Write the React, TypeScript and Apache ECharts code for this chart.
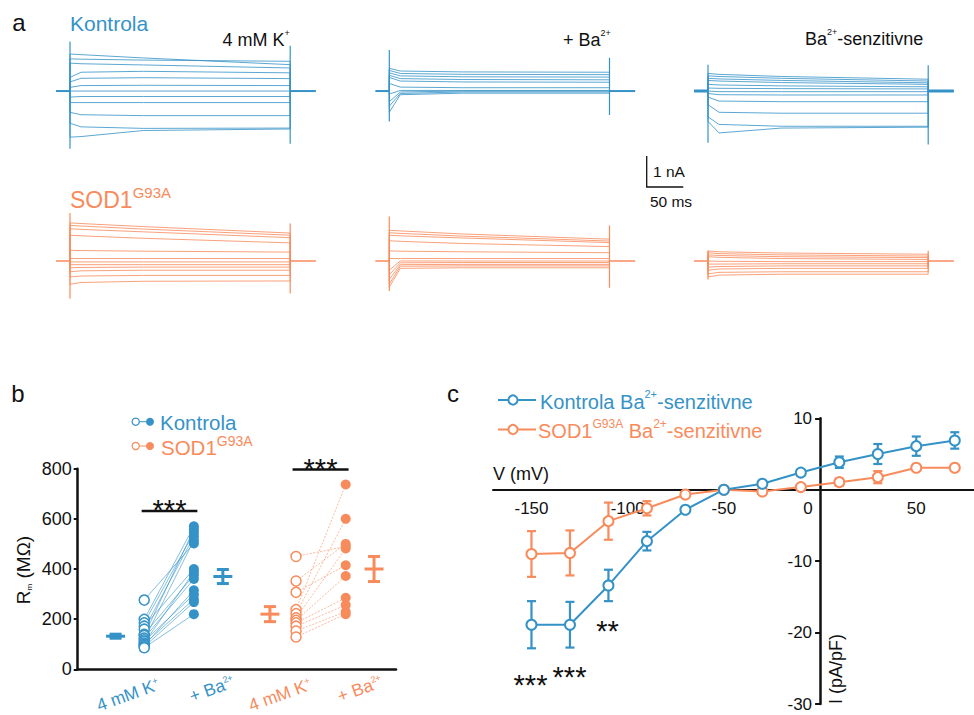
import React, { useEffect, useRef } from 'react';
import * as echarts from 'echarts';

const BLUE = '#3592c7';
const ORANGE = '#f88b5c';
const BLACK = '#111';
const FONT = '"Liberation Sans", Arial, Helvetica, sans-serif';

// ---------- Panel a: current traces (nA) sampled at these times (ms) ----------
const traceTimesMs = [0, 15, 100, 300];
const stepEndMs = 300;
const preMs = 19;
const postMs = 35;

const kontrola4K = [
  [1.22, 1.2, 1.09, 0.87],
  [1.06, 1.05, 1.02, 0.98],
  [0.92, 0.9, 0.86, 0.76],
  [0.45, 0.62, 0.65, 0.6],
  [0.3, 0.42, 0.44, 0.41],
  [0.12, 0.18, 0.19, 0.18],
  [0.0, 0.0, 0.0, 0.0],
  [-0.2, -0.18, -0.18, -0.18],
  [-0.38, -0.38, -0.38, -0.38],
  [-0.7, -0.78, -0.81, -0.81],
  [-1.06, -1.18, -1.23, -1.22],
  [-1.52, -1.5, -1.3, -1.25],
];
const kontrolaBa = [
  [0.75, 0.66, 0.63, 0.62],
  [0.68, 0.58, 0.55, 0.54],
  [0.6, 0.5, 0.47, 0.46],
  [0.52, 0.41, 0.38, 0.37],
  [0.45, 0.33, 0.3, 0.29],
  [0.25, 0.13, 0.11, 0.11],
  [-0.1, 0.02, 0.02, 0.02],
  [-0.35, -0.03, 0.0, 0.0],
  [-0.5, -0.08, -0.03, -0.03],
  [-0.7, -0.12, -0.07, -0.07],
];
const kontrolaSens = [
  [0.58, 0.55, 0.48, 0.39],
  [0.5, 0.48, 0.42, 0.33],
  [0.42, 0.4, 0.35, 0.27],
  [0.35, 0.33, 0.28, 0.22],
  [0.22, 0.2, 0.17, 0.14],
  [0.1, 0.09, 0.08, 0.07],
  [-0.02, -0.02, -0.02, -0.02],
  [-0.08, -0.12, -0.13, -0.13],
  [-0.2, -0.33, -0.35, -0.35],
  [-0.45, -0.7, -0.73, -0.73],
  [-0.85, -1.1, -1.16, -1.16],
  [-1.0, -1.38, -1.22, -1.19],
];
const sod4K = [
  [1.24, 1.22, 1.12, 0.91],
  [1.16, 1.14, 1.04, 0.84],
  [1.05, 1.03, 0.95, 0.76],
  [0.84, 0.82, 0.74, 0.59],
  [0.35, 0.34, 0.32, 0.29],
  [0.08, 0.08, 0.08, 0.08],
  [-0.03, -0.03, -0.03, -0.03],
  [-0.12, -0.12, -0.12, -0.12],
  [-0.22, -0.21, -0.2, -0.2],
  [-0.35, -0.32, -0.3, -0.3],
  [-0.52, -0.49, -0.47, -0.47],
  [-0.76, -0.7, -0.66, -0.65],
];
const sodBa = [
  [1.0, 0.98, 0.88, 0.71],
  [0.92, 0.9, 0.81, 0.65],
  [0.84, 0.82, 0.75, 0.6],
  [0.66, 0.64, 0.57, 0.47],
  [0.33, 0.32, 0.3, 0.27],
  [0.08, 0.08, 0.08, 0.08],
  [-0.3, 0.0, 0.0, 0.0],
  [-0.45, -0.06, -0.05, -0.05],
  [-0.6, -0.12, -0.11, -0.11],
  [-0.75, -0.17, -0.16, -0.16],
  [-0.85, -0.24, -0.22, -0.22],
];
const sodSens = [
  [0.33, 0.3, 0.26, 0.22],
  [0.27, 0.24, 0.2, 0.16],
  [0.2, 0.18, 0.14, 0.11],
  [0.14, 0.12, 0.08, 0.05],
  [0.0, -0.01, -0.02, -0.02],
  [-0.1, -0.1, -0.09, -0.09],
  [-0.2, -0.18, -0.16, -0.16],
  [-0.3, -0.26, -0.24, -0.24],
  [-0.42, -0.37, -0.35, -0.35],
  [-0.52, -0.46, -0.43, -0.43],
];
// capacitive spikes: [onTop, onBottom, offTop, offBottom] (nA)
const kontrola4KSpikes = [1.63, -1.9, 1.49, -1.74];
const kontrolaBaSpikes = [1.35, -1.0, 1.1, -0.79];
const kontrolaSensSpikes = [0.87, -1.7, 0.85, -1.76];
const sod4KSpikes = [1.56, -1.23, 1.22, -1.06];
const sodBaSpikes = [1.45, -0.98, 1.16, -0.87];
const sodSensSpikes = [0.33, -0.6, 0.33, -0.22];

// ---------- Panel b: membrane resistance (MΩ) ----------
const kontrolaBefore = [276, 199, 185, 172, 160, 140, 135, 125, 118, 112, 105, 100, 95, 90, 86];
const kontrolaAfter = [502, 570, 545, 400, 530, 375, 558, 360, 515, 298, 388, 280, 315, 268, 220];
const sodBefore = [450, 352, 307, 238, 222, 205, 195, 185, 172, 153, 129];
const sodAfter = [490, 500, 415, 737, 600, 482, 372, 285, 256, 230, 220];
// mean, SEM
const kontrolaBeforeMean = [132, 8];
const kontrolaAfterMean = [370, 28];
const sodBeforeMean = [220, 30];
const sodAfterMean = [400, 50];
const rmTicks = [0, 200, 400, 600, 800];

// ---------- Panel c: Ba2+-sensitive I–V ----------
const voltages = [-150, -130, -110, -90, -70, -50, -30, -10, 10, 30, 50, 70];
const kontrolaI = [-18.9, -18.9, -13.4, -7.2, -2.8, 0, 0.84, 2.4, 3.85, 5.0, 6.1, 6.9];
const kontrolaSEM = [3.3, 3.2, 2.2, 1.3, 0.4, 0, 0.2, 0.4, 0.8, 1.4, 1.35, 1.15];
const sodI = [-9.0, -8.85, -4.4, -2.6, -0.66, 0, -0.24, 0.37, 1.06, 1.76, 3.07, 3.07];
const sodSEM = [3.2, 3.15, 2.6, 1.0, 0.3, 0, 0.2, 0.3, 0.5, 0.85, 0.2, 0.2];
const xTickValues = [-150, -100, -50, 0, 50];

// ---------- layout constants ----------
const PX_PER_MS = 0.734;
const PX_PER_NA = 30.7;
const stepX = [70, 389.3, 708];
const baseY = [90, 261];
const bPos = { kMean1: 1.19, kOpen: 2.09, kFilled: 3.65, kMean2: 4.56, sMean1: 6.04, sOpen: 6.86, sFilled: 8.42, sMean2: 9.31 };
const cGrid = { left: 493, top: 418.3, width: 481, height: 285.7 };
const cX = [-170, 80];
const cY = [-30, 10];

const panels = [
  { levels: kontrola4K, spikes: kontrola4KSpikes, col: 0, row: 0, color: BLUE, baseW: 2 },
  { levels: kontrolaBa, spikes: kontrolaBaSpikes, col: 1, row: 0, color: BLUE, baseW: 2 },
  { levels: kontrolaSens, spikes: kontrolaSensSpikes, col: 2, row: 0, color: BLUE, baseW: 3 },
  { levels: sod4K, spikes: sod4KSpikes, col: 0, row: 1, color: ORANGE, baseW: 1.5 },
  { levels: sodBa, spikes: sodBaSpikes, col: 1, row: 1, color: ORANGE, baseW: 1.5 },
  { levels: sodSens, spikes: sodSensSpikes, col: 2, row: 1, color: ORANGE, baseW: 1.5 },
];

function txt(x: number, y: number, text: string, size: number, color: string, align = 'left', extra: any = {}) {
  return {
    type: 'text', x, y, silent: true, ...extra,
    style: { text, fontSize: size, fontFamily: FONT, fill: color, align, verticalAlign: 'middle', ...(extra.style || {}) },
  };
}
function rich(x: number, y: number, text: string, richDef: any, align = 'left', rotation = 0) {
  return {
    type: 'text', x, y, rotation, silent: true,
    style: { text, rich: richDef, align, verticalAlign: 'middle', fontFamily: FONT },
  };
}
function supRich(size: number, supSize: number, color: string, lh = 1.15) {
  return {
    a: { fontSize: size, fontFamily: FONT, fill: color, color, verticalAlign: 'bottom', lineHeight: size * lh },
    s: { fontSize: supSize, fontFamily: FONT, fill: color, color, verticalAlign: 'top', lineHeight: size * lh },
  };
}
function gline(x1: number, y1: number, x2: number, y2: number, color = BLACK, w = 1.3) {
  return { type: 'line', silent: true, shape: { x1, y1, x2, y2 }, style: { stroke: color, lineWidth: w } };
}

export default function App() {
  const ref = useRef<HTMLDivElement>(null);
  useEffect(() => {
    document.body.style.margin = '0';
    const chart = echarts.init(ref.current!, null, { renderer: 'svg' });

    const grid: any[] = [];
    const xAxis: any[] = [];
    const yAxis: any[] = [];
    const series: any[] = [];

    // panel a grids
    panels.forEach((p, i) => {
      grid.push({
        left: stepX[p.col] - 20 * PX_PER_MS, width: 360 * PX_PER_MS,
        top: baseY[p.row] - 3 * PX_PER_NA, height: 6 * PX_PER_NA,
      });
      xAxis.push({ gridIndex: i, type: 'value', min: -20, max: 340, show: false });
      yAxis.push({ gridIndex: i, type: 'value', min: -3, max: 3, show: false });
      const common = { type: 'line', xAxisIndex: i, yAxisIndex: i, symbol: 'none', silent: true, animation: false };
      p.levels.forEach((lv) => {
        const data: number[][] = [[0, 0]];
        traceTimesMs.forEach((t, k) => data.push([t, lv[k]]));
        data.push([stepEndMs, 0]);
        series.push({ ...common, data, lineStyle: { color: p.color, width: 0.9, opacity: 0.9 } });
      });
      series.push({ ...common, data: [[-preMs, 0], [0, 0]], lineStyle: { color: p.color, width: p.baseW } });
      series.push({ ...common, data: [[stepEndMs, 0], [stepEndMs + postMs, 0]], lineStyle: { color: p.color, width: p.baseW } });
      series.push({ ...common, data: [[0, p.spikes[0]], [0, p.spikes[1]]], lineStyle: { color: p.color, width: 1.2 } });
      series.push({ ...common, data: [[stepEndMs, p.spikes[2]], [stepEndMs, p.spikes[3]]], lineStyle: { color: p.color, width: 1.2 } });
    });

    // panel b
    const bi = 6;
    grid.push({ left: 77.7, top: 468.7, width: 318.3, height: 200.6 });
    xAxis.push({
      gridIndex: bi, type: 'value', min: 0, max: 10,
      axisLine: { onZero: false, lineStyle: { color: BLACK, width: 2.5 } },
      axisTick: { show: false }, axisLabel: { show: false }, splitLine: { show: false },
    });
    yAxis.push({
      gridIndex: bi, type: 'value', min: rmTicks[0], max: rmTicks[rmTicks.length - 1], interval: 200,
      axisLine: { show: true, lineStyle: { color: BLACK, width: 2.5 } },
      axisTick: { show: true, length: 4, lineStyle: { color: BLACK, width: 2 } },
      axisLabel: { fontSize: 18, fontFamily: FONT, color: BLACK, margin: 6 },
      splitLine: { show: false },
    });
    const pairLines = (before: number[], after: number[], x1: number, x2: number, color: string, dash: any) => ({
      type: 'lines', coordinateSystem: 'cartesian2d', xAxisIndex: bi, yAxisIndex: bi, silent: true,
      data: before.map((v, k) => ({ coords: [[x1, v], [x2, after[k]]] })),
      lineStyle: { color, width: 0.7, opacity: 0.85, type: dash, curveness: 0 },
    });
    series.push(pairLines(kontrolaBefore, kontrolaAfter, bPos.kOpen, bPos.kFilled, BLUE, 'solid'));
    series.push(pairLines(sodBefore, sodAfter, bPos.sOpen, bPos.sFilled, ORANGE, [2, 1.5]));
    const scat = (vals: number[], x: number, color: string, open: boolean) => ({
      type: 'scatter', xAxisIndex: bi, yAxisIndex: bi, silent: true, symbol: 'circle', symbolSize: 10, z: 4,
      data: vals.map((v) => [x, v]),
      itemStyle: open ? { color: '#fff', borderColor: color, borderWidth: 1.5, opacity: 1 } : { color, opacity: 1 },
    });
    series.push(scat(kontrolaBefore, bPos.kOpen, BLUE, true));
    series.push(scat(kontrolaAfter, bPos.kFilled, BLUE, false));
    series.push(scat(sodBefore, bPos.sOpen, ORANGE, true));
    series.push(scat(sodAfter, bPos.sFilled, ORANGE, false));
    const meanRender = (color: string) => (params: any, api: any) => {
      const x = api.value(0), m = api.value(1), e = api.value(2);
      const c = api.coord([x, m]);
      const t = api.coord([x, m + e]);
      const b = api.coord([x, m - e]);
      const st = { stroke: color, lineWidth: 3 };
      return {
        type: 'group', children: [
          { type: 'line', shape: { x1: c[0] - 9.5, y1: c[1], x2: c[0] + 9.5, y2: c[1] }, style: st },
          { type: 'line', shape: { x1: t[0], y1: t[1], x2: b[0], y2: b[1] }, style: st },
          { type: 'line', shape: { x1: t[0] - 6, y1: t[1], x2: t[0] + 6, y2: t[1] }, style: st },
          { type: 'line', shape: { x1: b[0] - 6, y1: b[1], x2: b[0] + 6, y2: b[1] }, style: st },
        ],
      };
    };
    series.push({
      type: 'custom', xAxisIndex: bi, yAxisIndex: bi, silent: true, renderItem: meanRender(BLUE),
      data: [[bPos.kMean1, ...kontrolaBeforeMean], [bPos.kMean2, ...kontrolaAfterMean]], encode: { x: 0, y: 1 },
    });
    series.push({
      type: 'custom', xAxisIndex: bi, yAxisIndex: bi, silent: true, renderItem: meanRender(ORANGE),
      data: [[bPos.sMean1, ...sodBeforeMean], [bPos.sMean2, ...sodAfterMean]], encode: { x: 0, y: 1 },
    });
    // significance bars
    series.push({ type: 'line', xAxisIndex: bi, yAxisIndex: bi, symbol: 'none', silent: true, data: [[2.01, 631], [3.76, 631]], lineStyle: { color: BLACK, width: 2.5 } });
    series.push({ type: 'line', xAxisIndex: bi, yAxisIndex: bi, symbol: 'none', silent: true, data: [[6.75, 797], [8.51, 797]], lineStyle: { color: BLACK, width: 2.5 } });

    // panel c: axes crossing at (0, 0) via offsets
    const ci = 7;
    grid.push(cGrid);
    const zeroY = cGrid.top + (cY[1] / (cY[1] - cY[0])) * cGrid.height;
    const zeroX = cGrid.left + (-cX[0] / (cX[1] - cX[0])) * cGrid.width;
    xAxis.push({
      gridIndex: ci, type: 'value', min: cX[0], max: cX[1], position: 'bottom',
      offset: zeroY - (cGrid.top + cGrid.height),
      axisLine: { onZero: false, lineStyle: { color: BLACK, width: 2 } },
      axisTick: { show: false },
      axisLabel: {
        customValues: xTickValues, fontSize: 17, fontFamily: FONT, color: BLACK, margin: 10,
        formatter: (v: number) => (v === 0 ? '{z|0}' : String(v)),
        rich: { z: { fontSize: 17, fontFamily: FONT, color: BLACK, padding: [0, 24, 0, 0] } },
      },
      splitLine: { show: false },
    });
    yAxis.push({
      gridIndex: ci, type: 'value', min: cY[0], max: cY[1], interval: 10, position: 'left',
      offset: cGrid.left - zeroX,
      axisLine: { show: true, onZero: false, lineStyle: { color: BLACK, width: 2.5 } },
      axisTick: { show: true, length: 5, lineStyle: { color: BLACK, width: 2 } },
      axisLabel: { fontSize: 17, fontFamily: FONT, color: BLACK, margin: 8, formatter: (v: number) => (v === 0 ? '' : String(v)) },
      splitLine: { show: false },
    });
    const errRender = (color: string) => (params: any, api: any) => {
      const x = api.value(0), m = api.value(1), e = api.value(2);
      if (!e) return { type: 'group', children: [] };
      const t = api.coord([x, m + e]);
      const b = api.coord([x, m - e]);
      const st = { stroke: color, lineWidth: 2.2 };
      return {
        type: 'group', children: [
          { type: 'line', shape: { x1: t[0], y1: t[1], x2: b[0], y2: b[1] }, style: st },
          { type: 'line', shape: { x1: t[0] - 4.5, y1: t[1], x2: t[0] + 4.5, y2: t[1] }, style: st },
          { type: 'line', shape: { x1: b[0] - 4.5, y1: b[1], x2: b[0] + 4.5, y2: b[1] }, style: st },
        ],
      };
    };
    series.push({
      type: 'custom', xAxisIndex: ci, yAxisIndex: ci, silent: true, renderItem: errRender(ORANGE), z: 2,
      data: voltages.map((v, k) => [v, sodI[k], sodSEM[k]]), encode: { x: 0, y: 1 },
    });
    series.push({
      type: 'custom', xAxisIndex: ci, yAxisIndex: ci, silent: true, renderItem: errRender(BLUE), z: 2,
      data: voltages.map((v, k) => [v, kontrolaI[k], kontrolaSEM[k]]), encode: { x: 0, y: 1 },
    });
    const ivLine = (vals: number[], color: string) => ({
      type: 'line', xAxisIndex: ci, yAxisIndex: ci, silent: true, z: 3,
      data: voltages.map((v, k) => [v, vals[k]]),
      symbol: 'emptyCircle', symbolSize: 10, showAllSymbol: true,
      lineStyle: { color, width: 2 }, itemStyle: { color, borderColor: color, borderWidth: 2 },
    });
    series.push(ivLine(sodI, ORANGE));
    series.push(ivLine(kontrolaI, BLUE));

    const deg = Math.PI / 180;
    const graphic: any[] = [
      // panel a
      txt(19, 22, 'a', 24, BLACK, 'center'),
      txt(70, 23, 'Kontrola', 21, BLUE),
      rich(222.5, 39, '{a|4 mM K}{s|+}', supRich(18, 9, BLACK)),
      rich(563, 39, '{a|+ Ba}{s|2+}', supRich(18, 9, BLACK)),
      rich(805, 38, '{a|Ba}{s|2+}{a|-senzitivne}', supRich(18, 9, BLACK)),
      rich(70, 198, '{a|SOD1}{s|G93A}', supRich(23, 15, ORANGE)),
      gline(646.7, 156, 646.7, 187),
      gline(646.1, 187, 683.3, 187),
      txt(653, 171, '1 nA', 15.5, BLACK),
      txt(671, 201, '50 ms', 15.5, BLACK, 'center'),
      // panel b
      txt(18, 393, 'b', 24, BLACK, 'center'),
      gline(135.7, 421.7, 150, 421.7, BLUE, 1),
      { type: 'circle', silent: true, shape: { cx: 135.7, cy: 421.7, r: 3.6 }, style: { fill: '#fff', stroke: BLUE, lineWidth: 1.2 } },
      { type: 'circle', silent: true, shape: { cx: 150, cy: 421.7, r: 4 }, style: { fill: BLUE } },
      txt(160, 422, 'Kontrola', 20.5, BLUE),
      gline(135.7, 446, 150, 446, ORANGE, 1),
      { type: 'circle', silent: true, shape: { cx: 135.7, cy: 446, r: 3.6 }, style: { fill: '#fff', stroke: ORANGE, lineWidth: 1.2 } },
      { type: 'circle', silent: true, shape: { cx: 150, cy: 446, r: 4 }, style: { fill: ORANGE } },
      rich(161, 446, '{a|SOD1}{s|G93A}', supRich(20.5, 14, ORANGE)),
      rich(22, 570, '{a|R}{m|m}{a| (MΩ)}', {
        a: { fontSize: 19, fontFamily: FONT, fill: BLACK, color: BLACK, verticalAlign: 'bottom', lineHeight: 22 },
        m: { fontSize: 8, fontFamily: FONT, fill: BLACK, color: BLACK, verticalAlign: 'bottom', lineHeight: 22 },
      }, 'center', 90 * deg),
      rich(128, 695, '{a|4 mM K}{s|+}', supRich(17.5, 9, BLUE, 1.0), 'center', 20 * deg),
      rich(212, 689, '{a|+ Ba}{s|2+}', supRich(17.5, 9, BLUE, 1.0), 'center', 20 * deg),
      rich(280, 695, '{a|4 mM K}{s|+}', supRich(17.5, 9, ORANGE, 1.0), 'center', 20 * deg),
      rich(360, 689, '{a|+ Ba}{s|2+}', supRich(17.5, 9, ORANGE, 1.0), 'center', 20 * deg),
      txt(169.5, 509.5, '***', 29, BLACK, 'center'),
      txt(320.5, 468.5, '***', 29, BLACK, 'center'),
      // panel c
      txt(453, 393, 'c', 24, BLACK, 'center'),
      gline(498, 400, 536, 400, BLUE, 2),
      { type: 'circle', silent: true, shape: { cx: 513, cy: 400, r: 4.6 }, style: { fill: '#fff', stroke: BLUE, lineWidth: 2 } },
      rich(540, 400, '{a|Kontrola Ba}{s|2+}{a|-senzitivne}', supRich(20, 11, BLUE)),
      gline(498, 429.5, 536, 429.5, ORANGE, 2),
      { type: 'circle', silent: true, shape: { cx: 513, cy: 429.5, r: 4.6 }, style: { fill: '#fff', stroke: ORANGE, lineWidth: 2 } },
      rich(538, 429.5, '{a|SOD1}{s|G93A}{a| Ba}{s|2+}{a|-senzitivne}', supRich(20, 12, ORANGE)),
      txt(493, 473.5, 'V (mV)', 18, BLACK),
      txt(836, 669, 'I (pA/pF)', 18, BLACK, 'center', { rotation: 90 * deg }),
      txt(530.5, 685, '***', 29, BLACK, 'center'),
      txt(569.5, 677, '***', 29, BLACK, 'center'),
      txt(607.5, 631, '**', 29, BLACK, 'center'),
    ];

    chart.setOption({
      animation: false,
      backgroundColor: '#fff',
      textStyle: { fontFamily: FONT },
      grid, xAxis, yAxis, series, graphic,
    });
    return () => chart.dispose();
  }, []);
  return <div ref={ref} style={{ position: 'fixed', left: 0, top: 0, width: 974, height: 715 }} />;
}
